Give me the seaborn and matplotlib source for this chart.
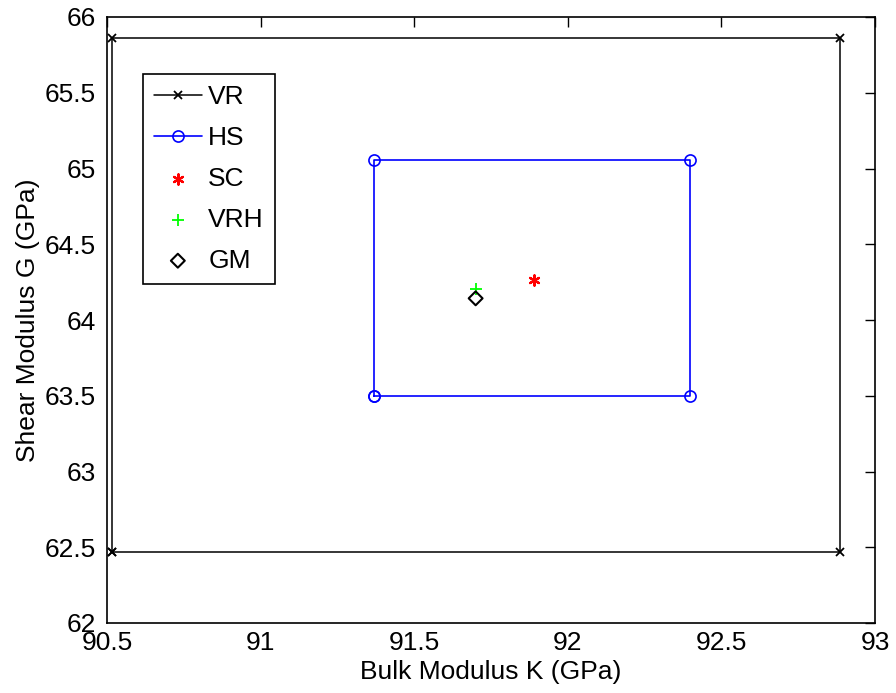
import matplotlib
matplotlib.use("Agg")
import matplotlib.pyplot as plt
import seaborn as sns
import pandas as pd

# Data
vr_K = [90.517, 92.887, 92.887, 90.517, 90.517]
vr_G = [62.467, 62.467, 65.863, 65.863, 62.467]
hs_K = [91.369, 92.398, 92.398, 91.369, 91.369]
hs_G = [63.498, 63.498, 65.056, 65.056, 63.498]
sc_K = [91.890]
sc_G = [64.264]
vrh_K = [91.700]
vrh_G = [64.203]
gm_K = [91.700]
gm_G = [64.143]

xticks = [90.5, 91, 91.5, 92, 92.5, 93]
yticks = [62, 62.5, 63, 63.5, 64, 64.5, 65, 65.5, 66]

sns.set_style("white")
plt.rcParams['font.family'] = ['Liberation Sans', 'DejaVu Sans']
plt.rcParams['font.size'] = 19
plt.rcParams['text.color'] = 'black'
plt.rcParams['axes.labelcolor'] = 'black'

FS = 19

fig = plt.figure(figsize=(8.96, 6.93), dpi=100)
ax = fig.add_axes([107/896, 1-623/693, (875-107)/896, (623-17)/693])

sns.lineplot(x=vr_K, y=vr_G, sort=False, estimator=None, ax=ax, color='black',
             marker='x', markersize=6, markeredgewidth=1.3, markeredgecolor='black',
             linewidth=1.1, label='VR')
sns.lineplot(x=hs_K, y=hs_G, sort=False, estimator=None, ax=ax, color='blue',
             marker='o', markersize=8, markerfacecolor='none', markeredgecolor='blue',
             markeredgewidth=1.2, linewidth=1.2, label='HS')
sns.scatterplot(x=sc_K, y=sc_G, ax=ax, color='red', marker=(6, 2, 0), s=55,
                linewidth=1.6, edgecolor='red', label='SC')
sns.scatterplot(x=vrh_K, y=vrh_G, ax=ax, color='#00ff00', marker='+', s=80,
                linewidth=1.3, label='VRH')
sns.scatterplot(x=gm_K, y=gm_G, ax=ax, marker='D', s=50, facecolor='none',
                edgecolor='black', linewidth=1.5, label='GM')

ax.set_xlim(90.5, 93)
ax.set_ylim(62, 66)
ax.set_xticks(xticks)
ax.set_xticklabels([f"{t:g}" for t in xticks])
ax.set_yticks(yticks)
ax.set_yticklabels([f"{t:g}" for t in yticks])
ax.tick_params(direction='in', length=7, width=1, top=True, right=True,
               labelsize=FS, colors='black')
ax.tick_params(axis='x', pad=6)
ax.tick_params(axis='y', pad=8)
for s in ax.spines.values():
    s.set_color('black')
    s.set_linewidth(1.2)
    s.set_visible(True)
ax.set_xlabel('Bulk Modulus K (GPa)', fontsize=FS, labelpad=3, color='black')
ax.set_ylabel('Shear Modulus G (GPa)', fontsize=FS, labelpad=3, color='black')

leg = ax.legend(loc='upper left', bbox_to_anchor=((143-107)/768, (623-74)/606),
                fancybox=False, frameon=True, edgecolor='black', framealpha=1,
                fontsize=FS, handlelength=1.8, handletextpad=0.25,
                borderpad=0.42, labelspacing=0.64, borderaxespad=0)
leg.get_frame().set_linewidth(1.2)
for t in leg.get_texts():
    t.set_color('black')

fig.savefig('out.png', dpi=100, facecolor='white')
